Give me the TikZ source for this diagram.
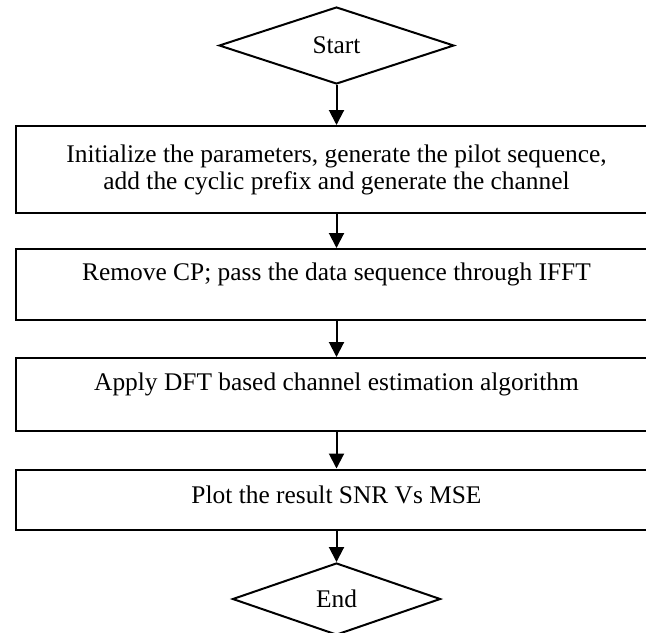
\documentclass[tikz,border=0pt]{standalone}
\usepackage{fontspec}
\setmainfont{Liberation Serif}
\usetikzlibrary{positioning,arrows.meta,shapes.geometric}

\begin{document}
\begin{tikzpicture}[
  x=0.5pt, y=-0.5pt,
  font=\fontsize{12.7}{13.5}\selectfont,
  >={Triangle[length=7.5pt,width=7.5pt]},
  line width=1pt,
  term/.style={draw, diamond, inner sep=0pt, minimum width=#1},
  proc/.style={draw, rectangle, minimum width=321pt, minimum height=#1,
               inner sep=0pt, align=center},
  txt/.style={inner sep=0pt, align=center},
]
  \useasboundingbox (0,0) rectangle (646,632);
  % ── Start / end terminals ──
  \node[term=117.5pt, minimum height=38.5pt] (start) at (336.5, 45.5) {Start};
  \node[term=104pt, minimum height=36pt] (stop) at (336.5, 599) {End};
  % ── Process boxes ──
  \node[proc=43.5pt] (init) at (336.5, 169.5)
    {Initialize the parameters, generate the pilot sequence,\\
     add the cyclic prefix and generate the channel};
  \node[proc=35.5pt] (remove) at (336.5, 284.5) {};
  \node[proc=36.5pt] (apply) at (336.5, 394.5) {};
  \node[proc=30pt] (plot) at (336.5, 499.5) {};
  % ── Box texts (set above centre) ──
  \node[txt] (removetxt) at ([yshift=5pt]remove.center)
    {Remove CP; pass the data sequence through IFFT};
  \node[txt] (applytxt) at ([yshift=5pt]apply.center)
    {Apply DFT based channel estimation algorithm};
  \node[txt] (plottxt) at ([yshift=2.5pt]plot.center)
    {Plot the result SNR Vs MSE};
  % ── Flow arrows ──
  \draw[->] (start) -- (init);
  \draw[->] (init) -- (remove);
  \draw[->] (remove) -- (apply);
  \draw[->] (apply) -- (plot);
  \draw[->] (plot) -- (stop);
\end{tikzpicture}
\end{document}
